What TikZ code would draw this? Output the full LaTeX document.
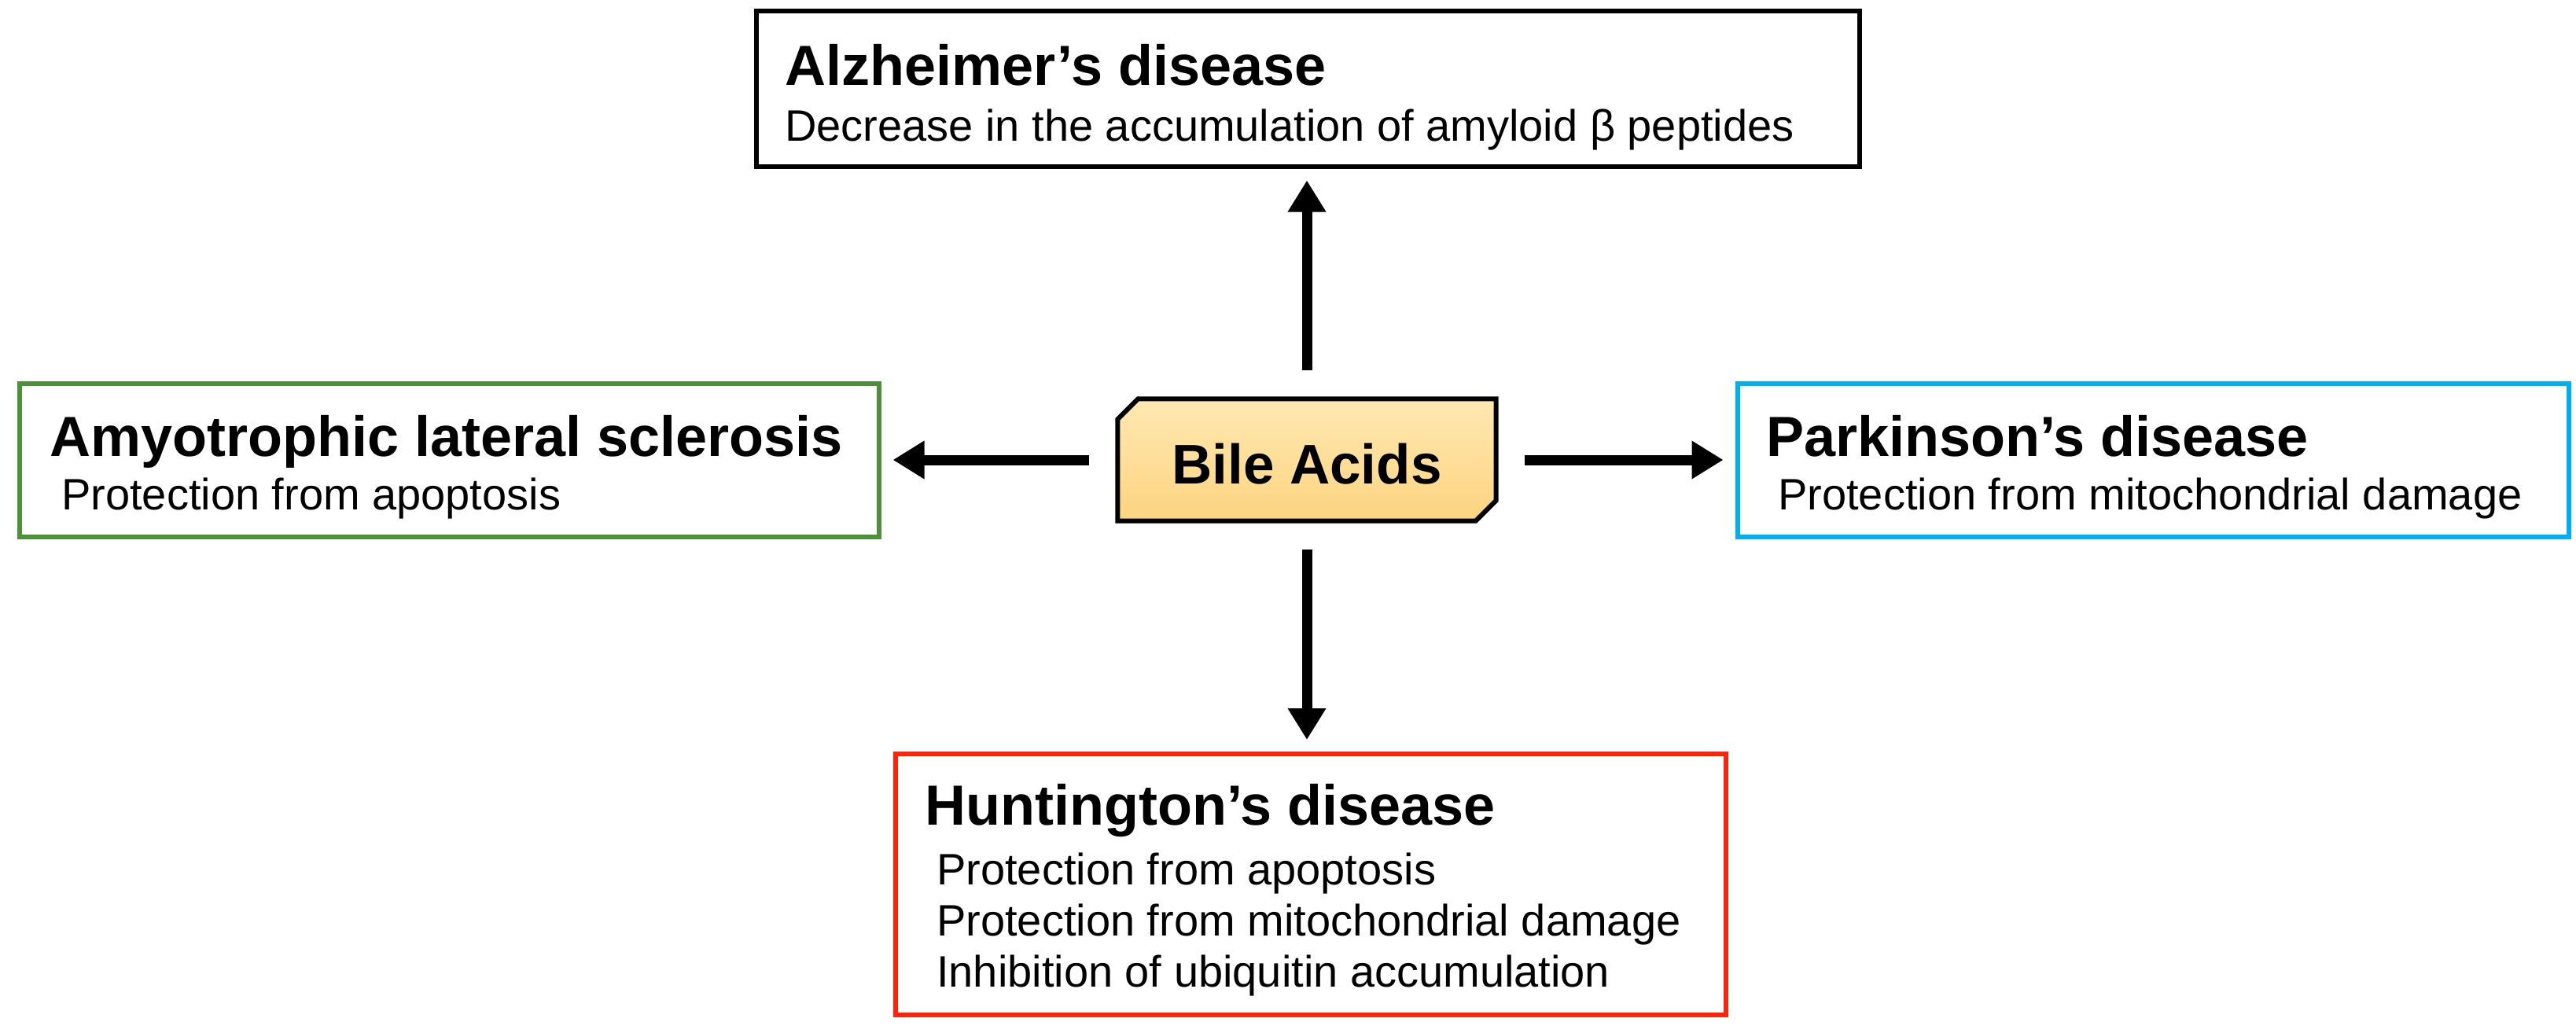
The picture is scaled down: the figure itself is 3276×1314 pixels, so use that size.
\documentclass[tikz,border=0pt]{standalone}
\usepackage{fontspec}
\setmainfont{Liberation Sans}
\usetikzlibrary{arrows.meta}
\definecolor{alsgreen}{RGB}{76,145,58}
\definecolor{pdblue}{RGB}{0,176,240}
\definecolor{hdred}{RGB}{255,35,10}
\definecolor{bilelight}{RGB}{255,232,178}
\definecolor{biledark}{RGB}{253,212,128}
\tikzstyle{disease}=[draw,line width=6pt,inner sep=0pt]
\tikzstyle{title}=[anchor=base west,inner sep=0pt,font=\fontsize{72}{80}\selectfont\bfseries]
\tikzstyle{effect}=[anchor=base west,inner sep=0pt,font=\fontsize{56}{64}\selectfont]
\tikzstyle{edge}=[draw,line width=13pt,-{Triangle[length=40pt,width=46pt]},shorten <=36pt,shorten >=15pt]

\begin{document}
\begin{tikzpicture}[x=1pt,y=-1pt]
        \useasboundingbox (0,0) rectangle (3276,1314);
        %\tikzset{edge/.style = {->,>=latex'}}
        \node[disease,minimum width=1403pt,minimum height=197pt] (alz) at (1663,113) {};
        \node[disease,draw=alsgreen,minimum width=1093pt,minimum height=195pt] (als) at (571,585) {};
        \node[disease,draw=pdblue,minimum width=1057pt,minimum height=195pt] (pd) at (2738,585) {};
        \node[disease,draw=hdred,minimum width=1056pt,minimum height=332pt] (hd) at (1667,1125) {};
        \node[minimum width=481pt,minimum height=155pt,inner sep=0pt] (bile) at (1662,585) {};
        \shade[top color=bilelight,bottom color=biledark,draw=black,line width=6pt,line join=miter]
          ([xshift=26pt]bile.north west) -- (bile.north east) -- ([yshift=26pt]bile.south east)
          -- ([xshift=-26pt]bile.south east) -- (bile.south west) -- ([yshift=-26pt]bile.north west) -- cycle;
        \node[font=\fontsize{71}{80}\selectfont\bfseries] (bileT) at (1662,590) {Bile Acids};
        \node[title] (alzT) at (998,108) {Alzheimer’s disease};
        \node[effect] (alzA) at (998,179) {Decrease in the accumulation of amyloid β peptides};
        \node[title] (alsT) at (63,580) {Amyotrophic lateral sclerosis};
        \node[effect] (alsA) at (78,648) {Protection from apoptosis};
        \node[title] (pdT) at (2246,580) {Parkinson’s disease};
        \node[effect] (pdA) at (2261,648) {Protection from mitochondrial damage};
        \node[title] (hdT) at (1176,1049) {Huntington’s disease};
        \node[effect] (hdA) at (1191,1125) {Protection from apoptosis};
        \node[effect] (hdB) at (1191,1190) {Protection from mitochondrial damage};
        \node[effect] (hdC) at (1191,1255) {Inhibition of ubiquitin accumulation};
        \draw[edge] (bile.north) to (bile.north |- alz.south);
        \draw[edge] (bile.south) to (bile.south |- hd.north);
        \draw[edge] (bile.west) to (bile.west -| als.east);
        \draw[edge] (bile.east) to (bile.east -| pd.west);
      \end{tikzpicture}
\end{document}
